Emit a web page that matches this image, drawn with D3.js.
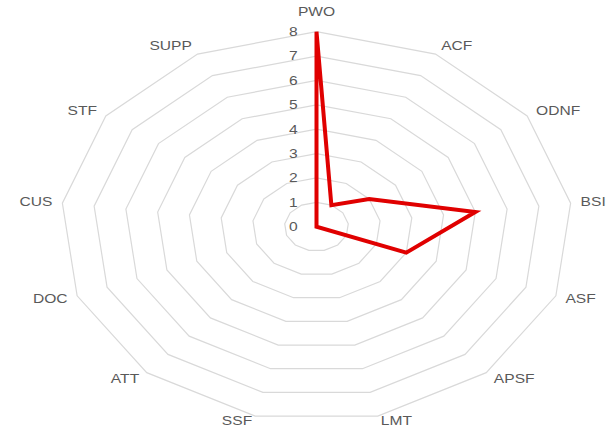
<!DOCTYPE html>
<html lang="en">
<head>
    <title>Radar Chart</title>
    <script src="https://d3js.org/d3.v7.min.js"></script>
    <style>
        body { margin: 0; background: #fff; }
    </style>
</head>
<body>
    <div id="chart"></div>

    <script>
        // Data for the chart
        const categories = ["PWO", "ACF", "ODNF", "BSI", "ASF", "APSF", "LMT",
                            "SSF", "ATT", "DOC", "CUS", "STF", "SUPP"];
        const values = [8, 1, 2, 5, 3, 0, 0, 0, 0, 0, 0, 0, 0];
        const tickValues = [0, 1, 2, 3, 4, 5, 6, 7, 8];

        // Chart dimensions (the picture is stretched wider than tall)
        const width = 607;
        const height = 434;
        const cx = 316.5;
        const cy = 226.7;
        const stretch = 1.3; // horizontal stretch of the text

        const svg = d3.select("#chart")
            .append("svg")
            .attr("width", width)
            .attr("height", height);

        // Scales
        const angle = d3.scaleLinear()
            .domain([0, categories.length])
            .range([0, 2 * Math.PI]);
        const rx = d3.scaleLinear().domain([0, 8]).range([0, 256]);
        const ry = d3.scaleLinear().domain([0, 8]).range([0, 195]);

        const px = (i, v) => cx + rx(v) * Math.sin(angle(i));
        const py = (i, v) => cy - ry(v) * Math.cos(angle(i));

        // Grid rings
        const ring = d3.line().curve(d3.curveLinearClosed);
        svg.append("g")
            .selectAll("path")
            .data(tickValues.filter(t => t > 0))
            .join("path")
            .attr("d", t => ring(categories.map((c, i) => [px(i, t), py(i, t)])))
            .attr("fill", "none")
            .attr("stroke", "#d9d9d9")
            .attr("stroke-width", 1.2);

        // Value axis (tick labels along the top spoke)
        const yAxis = d3.scaleLinear().domain([0, 8]).range([cy, cy - ry(8)]);
        const axisG = svg.append("g")
            .attr("transform", `translate(${cx},0)`)
            .call(d3.axisLeft(yAxis).tickValues(tickValues).tickSize(0).tickPadding(14.5));
        axisG.select(".domain").remove();
        axisG.selectAll("text")
            .attr("transform", `scale(${stretch},1)`)
            .attr("font-family", "Liberation Sans, Arial, sans-serif")
            .attr("font-size", 12)
            .attr("fill", "#595959");

        // Category labels
        const labels = svg.append("g")
            .selectAll("g")
            .data(categories)
            .join("g")
            .attr("transform", (c, i) => {
                const dx = rx(8) * Math.sin(angle(i));
                const dy = -ry(8) * Math.cos(angle(i));
                const len = Math.hypot(dx, dy);
                const off = 10;
                let x = cx + dx + off * dx / len;
                let y = cy + dy + off * dy / len;
                if (i === 0) y = cy - ry(8) - 20;
                if (Math.cos(angle(i)) < -0.9) y = cy + ry(8) * 0.971 + 5;
                return `translate(${x},${y})`;
            });
        labels.append("text")
            .attr("transform", `scale(${stretch},1)`)
            .attr("text-anchor", (c, i) => {
                const s = Math.sin(angle(i));
                return s > 0.1 ? "start" : s < -0.1 ? "end" : "middle";
            })
            .attr("dy", "0.35em")
            .attr("font-family", "Liberation Sans, Arial, sans-serif")
            .attr("font-size", 12)
            .attr("fill", "#595959")
            .text(c => c);

        // Data line
        svg.append("path")
            .datum(values)
            .attr("d", ring(values.map((v, i) => [px(i, v), py(i, v)])))
            .attr("fill", "none")
            .attr("stroke", "#e00000")
            .attr("stroke-width", 4)
            .attr("stroke-linejoin", "miter");
    </script>
</body>
</html>
